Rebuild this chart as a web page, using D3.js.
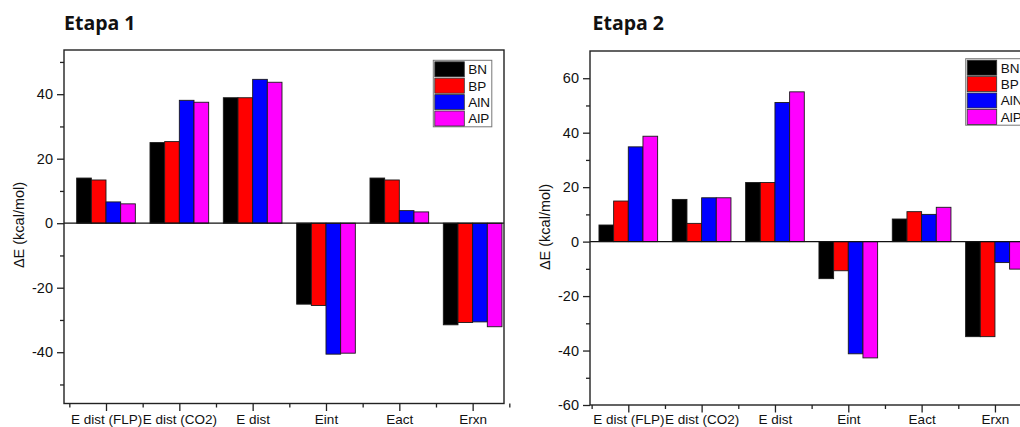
<!DOCTYPE html>
<html><head><meta charset="utf-8">
<script src="https://cdn.jsdelivr.net/npm/d3@7"></script>
<style>
html,body{margin:0;padding:0;background:#fff;}
svg{display:block;}
text{font-family:"Liberation Sans",Arial,sans-serif;fill:#111;}
text.title{font-family:"Open Sans",sans-serif;font-weight:700;}
</style></head>
<body><svg id="c" width="1020" height="427"></svg>
<script>
const categories = ["E dist (FLP)", "E dist (CO2)", "E dist", "Eint", "Eact", "Erxn"];
const seriesNames = ["BN", "BP", "AlN", "AlP"];
const seriesColors = ["#000000", "#ff0000", "#0000ff", "#ff00ff"];

// Etapa 1
const etapa1_BN  = [14.0, 25.0, 38.9, -25.1, 14.0, -31.5];
const etapa1_BP  = [13.4, 25.3, 38.9, -25.5, 13.4, -30.8];
const etapa1_AlN = [6.6, 38.1, 44.6, -40.6, 3.9, -30.6];
const etapa1_AlP = [6.0, 37.5, 43.7, -40.3, 3.5, -32.1];
const etapa1_majorTicks = [-40, -20, 0, 20, 40];
const etapa1_minorTicks = [-50, -30, -10, 10, 30, 50];

// Etapa 2
const etapa2_BN  = [6.1, 15.5, 21.7, -13.6, 8.3, -34.9];
const etapa2_BP  = [14.9, 6.7, 21.7, -10.7, 11.0, -34.9];
const etapa2_AlN = [34.8, 16.1, 51.1, -41.2, 10.0, -7.7];
const etapa2_AlP = [38.7, 16.1, 55.0, -42.7, 12.6, -10.1];
const etapa2_majorTicks = [-60, -40, -20, 0, 20, 40, 60];
const etapa2_minorTicks = [-50, -30, -10, 10, 30, 50];

const svg = d3.select("#c");
const fmt = d => String(d); // plain hyphen minus, as in the reference

function panel(cfg) {
  const g = svg.append("g");
  const series = cfg.series;
  const L = cfg.left, R = cfg.right, T = cfg.top, B = cfg.bottom;
  const y = d3.scaleLinear().domain(cfg.yDomain).range([B, T]);
  const xc = d3.scaleLinear().domain([0, categories.length - 1])
    .range([cfg.firstCenter, cfg.firstCenter + cfg.step * (categories.length - 1)]);
  const bw = cfg.step / 5;
  const xb = d3.scaleBand().domain(seriesNames).range([-2 * bw, 2 * bw]).padding(0);

  g.append("text").attr("class", "title").attr("x", cfg.titleX).attr("y", 29.5)
    .attr("font-size", 19.5).text(cfg.title);

  series.forEach((vals, si) => {
    g.append("g").selectAll("rect").data(vals).join("rect")
      .attr("x", (d, i) => xc(i) + xb(seriesNames[si]))
      .attr("width", xb.bandwidth())
      .attr("y", d => y(Math.max(0, d)))
      .attr("height", d => Math.abs(y(d) - y(0)))
      .attr("fill", seriesColors[si])
      .attr("stroke", "#1a1a1a").attr("stroke-width", 0.9);
  });

  g.append("line").attr("x1", L).attr("x2", R).attr("y1", y(0)).attr("y2", y(0))
    .attr("stroke", "#111").attr("stroke-width", 1.2);

  g.append("rect").attr("x", L).attr("y", T).attr("width", R - L).attr("height", B - T)
    .attr("fill", "none").attr("stroke", "#222").attr("stroke-width", 1.4);

  const yAxis = d3.axisLeft(y).tickValues(cfg.major).tickSize(7).tickPadding(4).tickFormat(fmt);
  const ya = g.append("g").attr("transform", `translate(${L},0)`).call(yAxis);
  ya.select(".domain").remove();
  ya.selectAll("line").attr("stroke", "#222").attr("stroke-width", 1.3);
  ya.selectAll("text").attr("font-size", 14.5).attr("fill", "#111")
    .attr("font-family", "Liberation Sans, Arial, sans-serif");
  const yMinor = d3.axisLeft(y).tickValues(cfg.minor).tickSize(4).tickFormat("");
  const ym = g.append("g").attr("transform", `translate(${L},0)`).call(yMinor);
  ym.select(".domain").remove();
  ym.selectAll("line").attr("stroke", "#222").attr("stroke-width", 1.3);

  const xMajor = d3.axisBottom(xc).tickValues(d3.range(categories.length))
    .tickSize(7.5).tickPadding(4).tickFormat(i => categories[i]);
  const xa = g.append("g").attr("transform", `translate(0,${B})`).call(xMajor);
  xa.select(".domain").remove();
  xa.selectAll("line").attr("stroke", "#222").attr("stroke-width", 1.3);
  xa.selectAll("text").attr("font-size", 13.5).attr("fill", "#111")
    .attr("font-family", "Liberation Sans, Arial, sans-serif")
    .attr("dy", null).attr("y", 424.3 - B);
  const xMinor = d3.axisBottom(xc).tickValues(d3.range(-0.5, categories.length, 1))
    .tickSize(4).tickFormat("");
  const xm = g.append("g").attr("transform", `translate(0,${B})`).call(xMinor);
  xm.select(".domain").remove();
  xm.selectAll("line").attr("stroke", "#222").attr("stroke-width", 1.3);

  g.append("text").attr("transform", `translate(${cfg.yLabelX},${cfg.yLabelY}) rotate(-90)`)
    .attr("text-anchor", "middle").attr("font-size", 14.5).text("\u0394E (kcal/mol)");

  const lg = g.append("g").attr("transform", `translate(${cfg.legendX},${cfg.legendY})`);
  lg.append("rect").attr("x", 0).attr("y", 0).attr("width", 58.5).attr("height", 66.5)
    .attr("fill", "#fff").attr("stroke", "#777").attr("stroke-width", 1);
  seriesNames.forEach((name, i) => {
    lg.append("rect").attr("x", 1.5).attr("y", 1.5 + i * 16.4).attr("width", 29.5).attr("height", 15)
      .attr("fill", seriesColors[i]).attr("stroke", "#333").attr("stroke-width", 0.8);
    lg.append("text").attr("x", 35).attr("y", 1.5 + i * 16.4 + 12.5).attr("font-size", 13.5).text(name);
  });
}

panel({
  title: "Etapa 1", titleX: 64,
  series: [etapa1_BN, etapa1_BP, etapa1_AlN, etapa1_AlP],
  left: 64, right: 504, top: 50, bottom: 403.5,
  yDomain: [-55.9, 53.7],
  major: etapa1_majorTicks, minor: etapa1_minorTicks,
  firstCenter: 106, step: 73.33,
  yLabelX: 24, yLabelY: 225,
  legendX: 433.3, legendY: 60.3
});

panel({
  title: "Etapa 2", titleX: 592.5,
  series: [etapa2_BN, etapa2_BP, etapa2_AlN, etapa2_AlP],
  left: 590, right: 1030, top: 51, bottom: 405,
  yDomain: [-60, 70],
  major: etapa2_majorTicks, minor: etapa2_minorTicks,
  firstCenter: 628.3, step: 73.33,
  yLabelX: 550, yLabelY: 227,
  legendX: 965.7, legendY: 58.7
});
</script>
</body></html>
